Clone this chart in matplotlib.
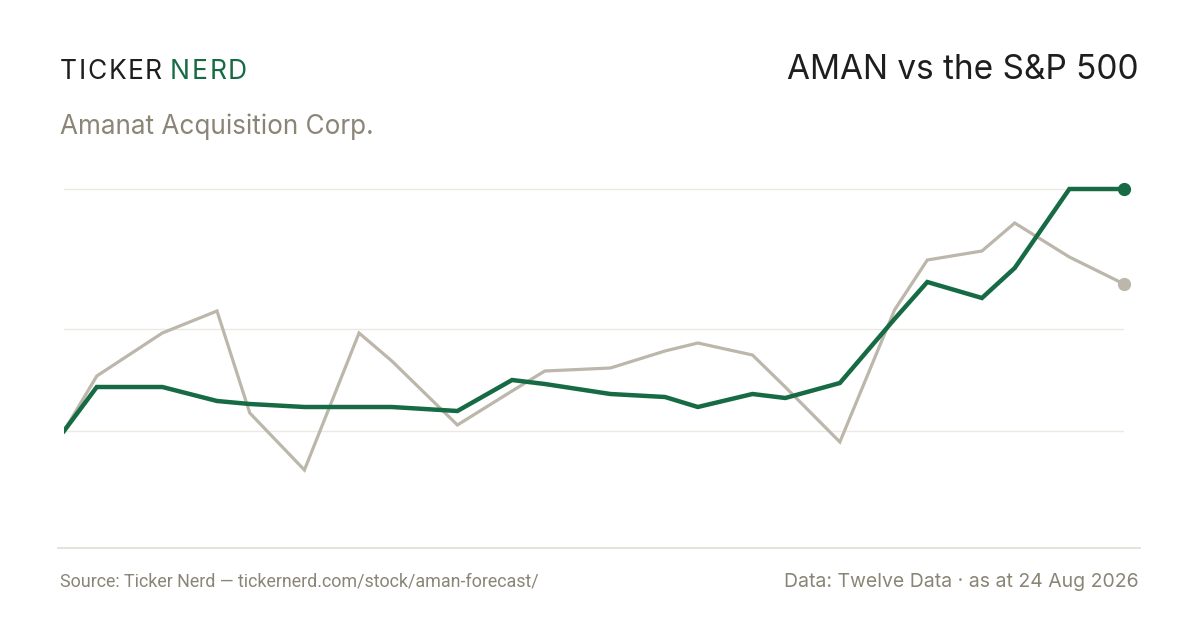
import matplotlib
matplotlib.use("Agg")
import matplotlib.pyplot as plt
from matplotlib.lines import Line2D

# day offsets of each observation (from first point)
days = [0, 3, 9, 14, 17, 22, 27, 30, 36, 41, 44, 50, 55, 58, 63, 66, 71, 76, 79, 84, 87, 92, 97]

# cumulative return, %
aman = [0, 4.4, 4.4, 3.0, 2.7, 2.4, 2.4, 2.4, 2.0, 5.1, 4.7, 3.7, 3.4, 2.4, 3.7, 3.3,
        4.8, 11.2, 14.9, 13.3, 16.3, 24.2, 24.2]
spx = [0, 5.5, 9.8, 12.0, 1.8, -3.9, 9.8, 7.0, 0.6, 4.0, 6.0, 6.3, 8.0, 8.8, 7.6, 4.4,
       -1.1, 12.1, 17.1, 18.0, 20.8, 17.4, 14.7]

grid_levels = [0, 10.2, 24.2]

GREEN = "#176b44"
GREY_LINE = "#bcb6ab"
MUTED = "#8a8576"
INK = "#1e1e1e"
GRID = "#ece9e3"
RULE = "#e0ddd3"

plt.rcParams["font.family"] = ["Inter", "DejaVu Sans"]

W, H = 1200, 630
fig = plt.figure(figsize=(W / 100, H / 100), dpi=100)
fig.patch.set_facecolor("white")


def fx(px):
    return px / W


def fy(py):
    return 1 - py / H


ax = fig.add_axes([fx(64), fy(548), fx(1124) - fx(64), fy(170) - fy(548)])
ax.set_xlim(0, 97)
ax.set_ylim(-11.7, 26.1)
ax.axis("off")

for g in grid_levels:
    ax.axhline(g, color=GRID, lw=1.0, zorder=1)

ax.plot(days, spx, color=GREY_LINE, lw=2.3, zorder=2, solid_joinstyle="miter")
ax.plot(days, aman, color=GREEN, lw=3.2, zorder=3, solid_joinstyle="miter")
ax.plot(days[-1], spx[-1], "o", color=GREY_LINE, ms=8.5, zorder=4, clip_on=False)
ax.plot(days[-1], aman[-1], "o", color=GREEN, ms=8.5, zorder=5, clip_on=False)

# bottom rule
fig.add_artist(Line2D([fx(58), fx(1140)], [fy(548), fy(548)], color=RULE, lw=1.2))

# logo with letter spacing
renderer = fig.canvas.get_renderer()
track = 1.6
x = 60
for word, col, gap in (("TICKER", INK, 8), ("NERD", GREEN, 0)):
    for ch in word:
        t = fig.text(fx(x), fy(79), ch, fontsize=19, color=col, ha="left", va="baseline")
        bb = t.get_window_extent(renderer)
        x += bb.width + track
    x += gap - track

fig.text(fx(60), fy(134), "Amanat Acquisition Corp.", fontsize=18.8, color=MUTED,
         ha="left", va="baseline")
fig.text(fx(1139), fy(79), "AMAN vs the S&P 500", fontsize=24, color=INK,
         ha="right", va="baseline")

fig.text(fx(60), fy(587), "Source: Ticker Nerd \u2014 tickernerd.com/stock/aman-forecast/",
         fontsize=12.9, color=MUTED, ha="left", va="baseline",
         family=["Roboto", "DejaVu Sans"])
fig.text(fx(1139), fy(587), "Data: Twelve Data \u00b7 as at 24 Aug 2026",
         fontsize=14.0, color=MUTED, ha="right", va="baseline")

fig.savefig("out.png", dpi=100, facecolor="white")
